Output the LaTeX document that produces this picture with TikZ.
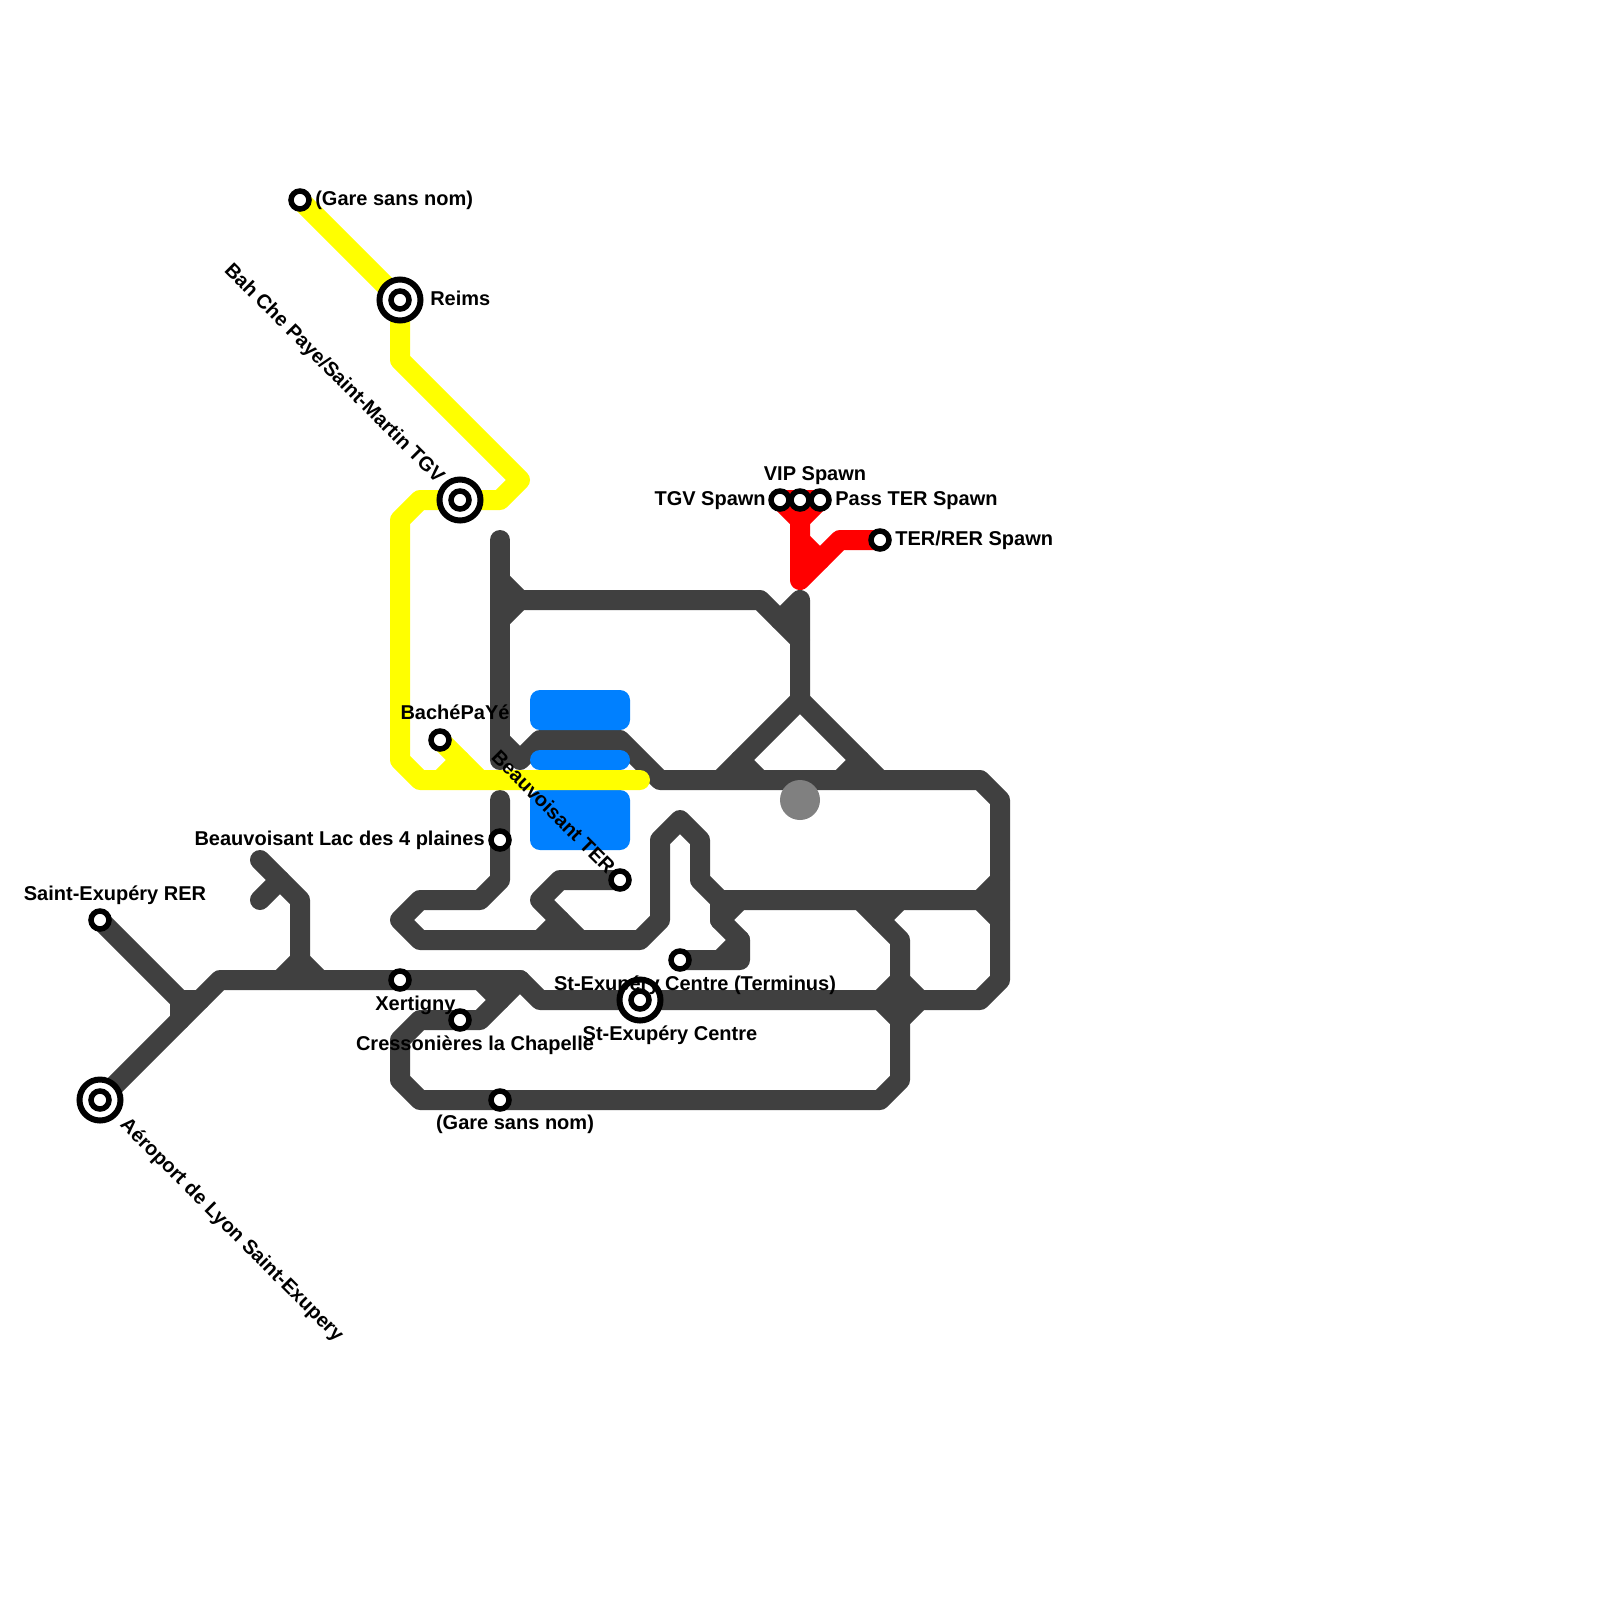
\documentclass[tikz,border=0pt]{standalone}
\usepackage{fontspec}
\setmainfont{Liberation Sans}
\usepackage{tikz}
\usetikzlibrary{backgrounds}
\definecolor{linedark}{HTML}{404040}
\definecolor{lineyellow}{HTML}{FFFF00}
\definecolor{linered}{HTML}{FF0000}
\definecolor{pillblue}{HTML}{0080FF}
\definecolor{depotgray}{HTML}{808080}
\tikzset{
  metro/.style={line width=5mm, line cap=round, line join=round},
  darkline/.style={metro, draw=linedark},
  yellowline/.style={metro, draw=lineyellow},
  redline/.style={metro, draw=linered},
  pill/.style={fill=pillblue, rounded corners=2.5mm},
  stn/.style={circle, draw=black, fill=white, line width=1.375mm, minimum size=4.5mm, inner sep=0pt},
  hub/.style={circle, draw=black, line width=1.5mm, minimum size=10.25mm, inner sep=0pt},
  lbl/.style={font=\fontsize{14.23}{17}\selectfont\bfseries, inner sep=0pt},
}

\begin{document}
\begin{tikzpicture}[x=5mm, y=-5mm]
  \useasboundingbox (0,0) rectangle (80,80);
  \node[lbl, anchor=west] (lgareN) at (15.75,10.0) {(Gare sans nom)};
  \node[lbl, anchor=west] (lreims) at (21.5,14.9) {Reims};
  \node[lbl, anchor=east, rotate=-45] (lbah) at (22.02,24.03) {Bah Che Paye/Saint-Martin TGV};
  \node[lbl] (lbache) at (22.75,35.6) {BachéPaYé};
  \node[lbl, anchor=east] (ltgv) at (38.3,25.05) {TGV Spawn};
  \node[lbl] (lvip) at (40.75,23.8) {VIP Spawn};
  \node[lbl, anchor=west] (lpass) at (41.75,25.05) {Pass TER Spawn};
  \node[lbl, anchor=west] (lter) at (44.75,27.0) {TER/RER Spawn};
  \node[lbl, anchor=east] (llac) at (24.25,42.0) {Beauvoisant Lac des 4 plaines};
  \node[lbl, anchor=east, rotate=-45] (lbeau) at (30.6,43.5) {Beauvoisant TER};
  \node[lbl] (lrer) at (5.75,44.75) {Saint-Exupéry RER};
  \node[lbl] (lxert) at (20.77,50.25) {Xertigny};
  \node[lbl] (lcress) at (23.75,52.25) {Cressonières la Chapelle};
  \node[lbl] (lgareS) at (25.75,56.2) {(Gare sans nom)};
  \node[lbl] (lterm) at (34.75,49.25) {St-Exupéry Centre (Terminus)};
  \node[lbl] (lcentre) at (33.5,51.75) {St-Exupéry Centre};
  \node[lbl, anchor=west, rotate=-45] (lair) at (6.15,56.1) {Aéroport de Lyon Saint-Exupery};

  \node[circle, fill=depotgray, minimum size=10mm, inner sep=0pt] (depot) at (40,40) {};

  \node[stn] (gareN) at (15,10) {};
  \node[stn] (reims) at (20,15) {};
  \node[hub] (reimsring) at (20,15) {};
  \node[stn] (bah) at (23,25) {};
  \node[hub] (bahring) at (23,25) {};
  \node[stn] (bache) at (22,37) {};
  \node[stn] (tgv) at (39,25) {};
  \node[stn] (vip) at (40,25) {};
  \node[stn] (pass) at (41,25) {};
  \node[stn] (ter) at (44,27) {};
  \node[stn] (lac) at (25,42) {};
  \node[stn] (beau) at (31,44) {};
  \node[stn] (rer) at (5,46) {};
  \node[stn] (term) at (34,48) {};
  \node[stn] (xert) at (20,49) {};
  \node[stn] (centre) at (32,50) {};
  \node[hub] (centrering) at (32,50) {};
  \node[stn] (cress) at (23,51) {};
  \node[stn] (air) at (5,55) {};
  \node[hub] (airring) at (5,55) {};
  \node[stn] (gareS) at (25,55) {};

  \begin{scope}[on background layer]
    \draw[darkline] (25,27) -- (25,38);
    \draw[darkline] (25,37) -- (26,38) -- (27,37) -- (31,37) -- (33,39) -- (49,39) -- (50,40) -- (50,49) -- (49,50) -- (centre.center) -- (27,50) -- (26,49) -- (xert.center) -- (11,49) -- (air.center);
    \draw[darkline] (25,29) -- (26,30) -- (25,31);
    \draw[darkline] (26,30) -- (38,30) -- (40,32);
    \draw[darkline] (39,31) -- (40,30) -- (40,35);
    \draw[darkline] (36,39) -- (40,35) -- (44,39);
    \draw[darkline] (37,38) -- (38,39);
    \draw[darkline] (42,39) -- (43,38);
    \draw[darkline] (rer.center) -- (9,50) -- (10,50);
    \draw[darkline] (9,50) -- (9,51);
    \draw[darkline] (13,43) -- (15,45) -- (15,48);
    \draw[darkline] (14,49) -- (15,48) -- (16,49);
    \draw[darkline] (13,45) -- (14,44);
    \draw[darkline] (24,49) -- (25,50);
    \draw[darkline] (26,49) -- (24,51) -- (cress.center) -- (21,51) -- (20,52) -- (20,54) -- (21,55) -- (gareS.center) -- (44,55) -- (45,54) -- (45,47) -- (43,45);
    \draw[darkline] (45,45) -- (44,46);
    \draw[darkline] (44,50) -- (45,49) -- (46,50) -- (45,51) -- cycle;
    \draw[darkline] (term.center) -- (37,48) -- (37,47) -- (36,46) -- (36,45) -- (35,44) -- (35,42) -- (34,41) -- (33,42) -- (33,46) -- (32,47) -- (21,47) -- (20,46) -- (21,45) -- (24,45) -- (25,44) -- (lac.center) -- (25,40);
    \draw[darkline] (37,45) -- (36,46);
    \draw[darkline] (36,48) -- (37,47);
    \draw[darkline] (36,45) -- (49,45) -- (50,44);
    \draw[darkline] (49,45) -- (50,46);
    \draw[darkline] (beau.center) -- (28,44) -- (27,45) -- (29,47);
    \draw[darkline] (27,47) -- (28,46);

    \path[pill] (26.5,34.5) rectangle (31.5,36.5);
    \path[pill] (26.5,37.5) rectangle (31.5,38.5);
    \path[pill] (26.5,39.5) rectangle (31.5,42.5);

    \draw[yellowline] (gareN.center) -- (reims.center) -- (20,18) -- (26,24) -- (25,25) -- (bah.center) -- (21,25) -- (20,26) -- (20,38) -- (21,39) -- (32,39);
    \draw[yellowline] (bache.center) -- (24,39);
    \draw[yellowline] (23,38) -- (22,39);

    \draw[redline] (tgv.center) -- (pass.center);
    \draw[redline] (tgv.center) -- (40,26) -- (pass.center);
    \draw[redline] (vip.center) -- (40,29) -- (42,27) -- (ter.center);
    \draw[redline] (40,27) -- (41,28);

    \fill[white] (reims.center) circle (1.025);
    \fill[white] (bah.center) circle (1.025);
    \fill[white] (centre.center) circle (1.025);
    \fill[white] (air.center) circle (1.025);
  \end{scope}
\end{tikzpicture}
\end{document}
